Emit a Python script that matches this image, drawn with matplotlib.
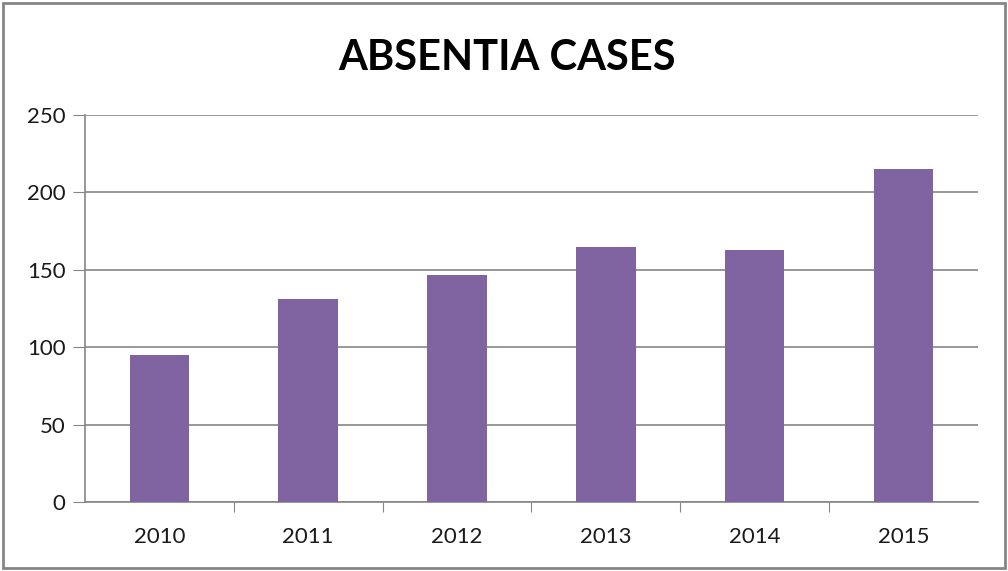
import matplotlib.pyplot as plt
from matplotlib.patches import Rectangle

years = ['2010', '2011', '2012', '2013', '2014', '2015']
cases = [95, 131, 147, 165, 163, 215]
yticks = [0, 50, 100, 150, 200, 250]

plt.rcParams['font.family'] = ['Lato', 'DejaVu Sans']

fig = plt.figure(figsize=(10.08, 5.71), dpi=100)
ax = fig.add_axes([0.0843, 0.1203, 0.8857, 0.6783])

x = range(len(years))
ax.bar(x, cases, width=0.4, color='#8064A2', zorder=3)

ax.set_xlim(-0.5, len(years) - 0.5)
ax.set_ylim(0, 250)
ax.set_yticks(yticks)
ax.set_yticklabels([str(v) for v in yticks], fontsize=16, color='#1a1a1a')
ax.set_xticks([i + 0.5 for i in range(len(years) - 1)], minor=False)
ax.set_xticklabels([])
ax.set_xticks(list(x), minor=True)
ax.set_xticklabels(years, minor=True, fontsize=16, color='#1a1a1a')
ax.tick_params(axis='x', which='major', length=7, color='#868686', direction='out')
ax.tick_params(axis='x', which='minor', length=0, pad=18)
ax.tick_params(axis='y', length=9, color='#868686', pad=5)

ax.grid(axis='y', color='#868686', linewidth=1.2, zorder=0)
for side in ['top', 'right']:
    ax.spines[side].set_visible(False)
ax.spines['left'].set_color('#868686')
ax.spines['bottom'].set_color('#868686')
ax.spines['left'].set_linewidth(1.2)
ax.spines['bottom'].set_linewidth(1.2)

fig.text(0.5025, 0.899, 'ABSENTIA CASES', ha='center', va='center',
         fontsize=30, fontweight='bold', color='black')

fig.patches.append(Rectangle((0.003, 0.005), 0.994, 0.99, transform=fig.transFigure,
                             fill=False, edgecolor='#868686', linewidth=2))

fig.savefig('out.png', dpi=100)
